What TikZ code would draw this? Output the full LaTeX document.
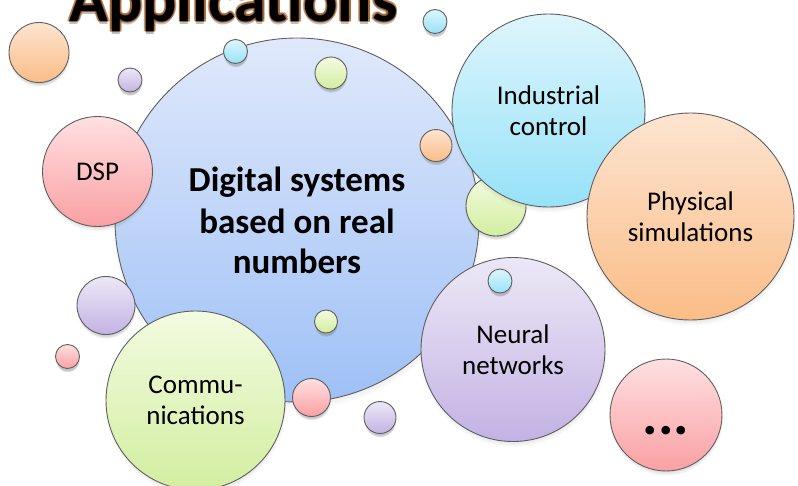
\documentclass[tikz,border=0pt]{standalone}
\usepackage{fontspec}
\setmainfont{Carlito}
\usepackage{tikz}
\usetikzlibrary{shadows}
\definecolor{edge}{RGB}{95,95,95}
\definecolor{glow}{RGB}{150,80,25}
\definecolor{blueA}{RGB}{224,233,251}
\definecolor{blueB}{RGB}{158,192,246}
\definecolor{pinkA}{RGB}{255,224,226}
\definecolor{pinkB}{RGB}{250,160,163}
\definecolor{cyanA}{RGB}{222,245,252}
\definecolor{cyanB}{RGB}{150,226,248}
\definecolor{orngA}{RGB}{253,228,208}
\definecolor{orngB}{RGB}{250,189,135}
\definecolor{purpA}{RGB}{236,232,246}
\definecolor{purpB}{RGB}{195,178,228}
\definecolor{grenA}{RGB}{243,251,224}
\definecolor{grenB}{RGB}{210,238,160}
\tikzset{
  tone/.style={top color=#1A, bottom color=#1B},
  soft/.style={circular drop shadow={shadow xshift=0pt, shadow yshift=-3.5pt,
      shadow scale=1.02, opacity=.45}},
  blob/.style={draw=edge, line width=0.9pt, soft, tone=#1},
  bub/.style={circle, draw=edge, line width=0.9pt, inner sep=0pt, align=center,
    soft, tone=#1, font=\fontsize{27}{31.5}\selectfont},
  ttl/.style={anchor=base, font=\fontsize{64}{70}\selectfont\bfseries},
}

\begin{document}
\begin{tikzpicture}[x=1pt,y=-1pt]
        \useasboundingbox (0,0) rectangle (798,485);
        \clip (0,0) rectangle (798,485);
        %Main bubble
        \node[bub=blue, minimum size=364pt, font=\fontsize{35}{39.5}\selectfont\bfseries]
          (core) at (297,220) {\raisebox{3pt}{Digital systems}\\based on real\\numbers};
        %Small bubbles on the main one
        \draw[blob=cyan] (235.5,51.5) circle (12);
        \draw[blob=gren] (331,73) circle (16);
        \draw[blob=orng] (436,145.5) circle (16);
        \draw[blob=gren] (326,321.5) circle (11.5);
        \draw[blob=pink] (311.5,397.5) circle (19);
        \draw[blob=gren] (496,206) circle (30);
        %Applications
        \node[bub=cyan, minimum size=193pt] (ind) at (548.5,110.5) {Industrial\\control};
        \node[bub=orng, minimum size=207pt] (phys) at (690.5,216.5) {Physical\\simulations};
        \node[bub=pink, minimum size=110pt] (dsp) at (97.5,171.5) {DSP};
        \draw[blob=purp] (106,305.5) circle (29);
        \node[bub=gren, minimum size=179pt] (comm) at (195.5,400.5) {Commu-\\nications};
        \node[bub=purp, minimum size=184pt] (nn) at (513,349.5) {Neural\\networks};
        \draw[blob=cyan] (500,281) circle (12);
        \node[bub=pink, minimum size=112pt, text height=38pt, text depth=0pt,
          font=\fontsize{58}{60}\selectfont\bfseries] (more) at (666,415) {...};
        %Loose bubbles
        \draw[blob=orng] (39,52.5) circle (30);
        \draw[blob=purp] (130,80) circle (12);
        \draw[blob=cyan] (435,21.5) circle (12);
        \draw[blob=pink] (67.5,356.5) circle (12);
        \draw[blob=purp] (380,417.5) circle (16);
        %Title
        \node[ttl, text=black, text opacity=.25] at (233.5,24) {Applications};
        \foreach \a in {0,45,...,315}
          \node[ttl, text=glow, text opacity=.5] at ([shift={(\a:1.8)}]233.5,21) {Applications};
        \node[ttl] (title) at (233.5,21) {Applications};
\end{tikzpicture}
\end{document}
